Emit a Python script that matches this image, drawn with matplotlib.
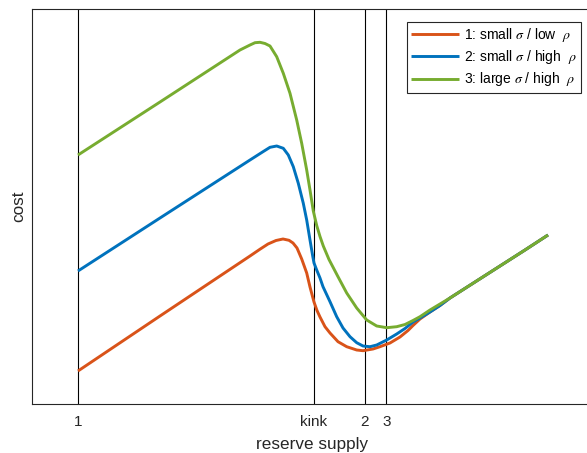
import matplotlib
matplotlib.use("Agg")
import matplotlib.pyplot as plt

plt.rcParams['font.family'] = ['Liberation Sans', 'DejaVu Sans']
plt.rcParams['mathtext.fontset'] = 'stix'

# ---- data (arbitrary units) ----
x1 = [46, 128, 218, 228, 236, 244, 251, 257, 261, 265, 269.7, 274.7, 278, 282,
      285, 288, 293, 298, 306, 314.7, 324.7, 331, 341, 348, 358, 368, 376, 381,
      388, 398, 408, 418, 443, 468, 493, 516]
y1 = [33, 88, 148, 154.8, 160, 163.5, 165, 163.7, 161, 156, 145, 131, 117, 102,
      93.5, 87, 77.3, 71, 62.3, 57.3, 54, 53.3, 55, 57.3, 61, 67, 73.5, 78.5,
      85, 92, 98.5, 106, 122, 138, 154, 169]

x2 = [46, 128, 218, 231, 238, 244.7, 251.3, 256.3, 261.3, 266.3, 271.3, 274.7,
      278, 280.7, 282, 284.7, 288, 291, 298, 304.7, 311, 318, 324.7, 331, 338,
      344.7, 354.7, 364.7, 373, 381, 388, 398, 408, 418, 443, 468, 493, 516]
y2 = [133, 186, 244, 252.3, 256.7, 258, 255.7, 249, 237.3, 220.7, 200.7, 184,
      164, 148, 141, 134, 126, 117.3, 102.3, 87.3, 76, 67.3, 61.3, 58, 57.3,
      59, 64, 70, 75.5, 82, 86, 92, 98.5, 106, 122, 138, 154, 169]

x3 = [46, 128, 208, 218, 223, 228, 233, 238, 244.7, 251.3, 258, 264.7, 269.7,
      274.7, 278, 281.3, 284.7, 288, 291.3, 297, 306, 314.7, 324.7, 334.7,
      344.7, 354.7, 364.7, 373, 381, 388, 398, 408, 418, 443, 468, 493, 516]
y3 = [249, 302, 354, 359, 361.3, 361.7, 360.5, 358, 347.3, 330.7, 310.7, 284,
      260.7, 234, 214, 193, 178.5, 167.5, 158, 144.5, 127.3, 111, 96, 84, 78,
      76.3, 77.3, 79.5, 83.5, 87.3, 94, 100, 106, 122, 138, 154, 169]

vlines = [46, 282, 333, 354.5]
tick_labels = ['1', 'kink', '2', '3']
labels = [r'1: small $\sigma$ / low  $\rho$',
          r'2: small $\sigma$ / high  $\rho$',
          r'3: large $\sigma$ / high  $\rho$']
colors = ['#D95319', '#0072BD', '#77AC30']

# ---- figure ----
W, H = 587, 453
fig = plt.figure(figsize=(W / 100, H / 100), dpi=100)
left_px, bottom_px, top_px, right_px = 32, 404, 9, 593
ax = fig.add_axes([left_px / W, (H - bottom_px) / H,
                   (right_px - left_px) / W, (bottom_px - top_px) / H])

for xs in vlines:
    ax.axvline(xs, color='black', lw=0.8, zorder=1)

for xs, ys, c, lab in zip([x1, x2, x3], [y1, y2, y3], colors, labels):
    ax.plot(xs, ys, color=c, lw=2.1, label=lab, zorder=3,
            solid_joinstyle='round', solid_capstyle='butt')

ax.set_xlim(0, right_px - left_px)
ax.set_ylim(0, bottom_px - top_px)
ax.set_xticks(vlines)
ax.set_xticklabels(tick_labels, fontsize=11, color='#262626')
ax.set_yticks([])
ax.tick_params(axis='x', direction='in', length=0, pad=8)
for sp in ax.spines.values():
    sp.set_color('#262626')
    sp.set_linewidth(0.8)

ax.set_xlabel('reserve supply', fontsize=12.3, color='#262626', labelpad=5.5)
ax.set_ylabel('cost', fontsize=12.3, color='#262626', labelpad=4)

leg = ax.legend(loc='upper right', bbox_to_anchor=(581 / W, 1 - 22 / H),
                bbox_transform=fig.transFigure, borderaxespad=0,
                fontsize=10, handlelength=3.5, handletextpad=0.35,
                labelspacing=0.3, borderpad=0.3, fancybox=False,
                framealpha=1, edgecolor='#262626')
leg.get_frame().set_linewidth(0.8)

fig.savefig('out.png', dpi=100)
